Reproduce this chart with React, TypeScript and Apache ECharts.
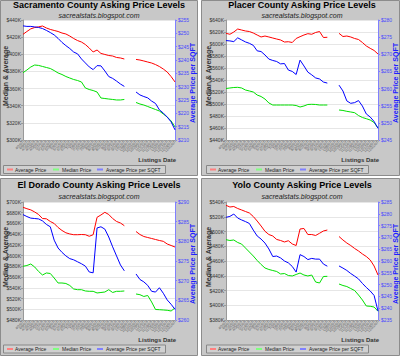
import React, { useEffect, useRef } from "react";
import * as echarts from "echarts";

const dates = [
  "4/2/07", "4/9/07", "4/16/07", "4/23/07", "4/30/07", "5/7/07", "5/14/07", "5/21/07",
  "5/28/07", "6/4/07", "6/11/07", "6/18/07", "6/25/07", "7/2/07", "7/9/07", "7/16/07",
  "7/23/07", "7/30/07", "8/6/07", "8/13/07", "8/20/07", "8/27/07", "9/3/07", "9/10/07",
  "9/17/07", "9/24/07", "10/1/07", "10/8/07", "10/15/07", "10/22/07", "10/29/07", "11/5/07",
  "11/12/07", "11/19/07", "11/26/07", "12/3/07", "12/10/07", "12/17/07", "12/24/07", "12/31/07",
];

const sacramentoAverage = [423.3, 426.6, 429.7, 431.2, 432, 433, 430.7, 429, 427.8, 426.6, 424.8, 423.7, 421.3, 418.4, 416, 414.3, 411.4, 407.3, 402.7, 405, 401, 399.8, 398.6, 398, 396.3, 395.7, 394.5, null, null, 394, 393.3, 392.2, 391, 389.8, 388, 385.7, 382.8, 379.3, 374, 367.7];
const sacramentoMedian = [378.5, 381.7, 385.2, 387.5, 387, 385.8, 384.6, 383.4, 381, 378.2, 376.4, 374.1, 372.3, 370.6, 369.4, 367.7, 360.7, 358.9, 357.7, 356, 349, 348.4, 347.8, 347.3, 346.7, 346.7, 347.3, null, null, 343.8, 342, 340.8, 339.1, 337.3, 335.6, 333.8, 330.3, 326.8, 322.2, 315.2];
const sacramentoSqft = [252.8, 252.6, 252.6, 252.4, 252.2, 251.8, 251.1, 250.3, 249.4, 248.1, 246.6, 245.4, 244.3, 243, 242.3, 240.4, 238.9, 237.4, 236.4, 237.9, 237.8, 235.9, 233.8, 233.1, 232.1, 231, 230.1, null, null, 228, 226.9, 226.3, 225.8, 224.6, 223.7, 221.3, 220.1, 218.6, 216.8, 213.8];

const placerAverage = [617.8, 616.2, 620, 625, 623.3, 621.7, 620.8, 618.3, 615, 611.7, 613.3, 611.7, 610, 608.3, 606.7, 603.3, 603.8, 602.5, 609.2, 612.2, 615, 617.2, 616.2, 619.2, 620.8, 610.8, 611.2, null, null, 617.8, 612.5, 613.3, 611.7, 609.2, 607.5, 602.5, 596.7, 592.8, 589.2, 583.3];
const placerMedian = [525.8, 526.7, 527.5, 527.8, 526.7, 523.3, 521.7, 520, 515, 512.5, 508.3, 501.7, 498.3, 498.3, 498.3, 498.3, 498.3, 498.3, 497.5, 495, 496.7, 499.2, 499.5, 499.2, 498.3, 498.3, 498.3, null, null, 490, 489.2, 487.8, 486.7, 485.5, 480.8, 477.5, 475.5, 473.3, 469.2, 460];
const placerSqft = [274, 273.9, 273.7, 274.8, 274.2, 273.6, 273.2, 272.6, 271, 270.8, 269.8, 268.6, 268.2, 267.9, 267.2, 267.3, 265.4, 265, 264.1, 268.3, 266.6, 264.8, 264, 263.1, 262.8, 261.9, 261.6, null, null, 261, 259.3, 256.4, 255.7, 255.9, 256.5, 254.9, 252.6, 251.7, 250.4, 248.4];

const elDoradoAverage = [690.1, 687.5, 685.3, 681.4, 676.7, 669.2, 668.7, 663.7, 659.9, 652.5, 646.9, 642.6, 640.4, 639, 639, 639.4, 639, 636.1, 639, 671.5, 675.8, 680.8, 676.7, 669.2, 663.7, 660.9, 655.8, null, null, 645, 639.4, 635.7, 633.8, 632, 630.1, 628.2, 626.7, 621.7, 618.9, 616.1];
const elDoradoMedian = [580.1, 581.6, 584.4, 578.8, 570.5, 563.9, 567.7, 566.7, 558.3, 549, 549, 548.1, 544.4, 537.8, 536.5, 536.5, 534.1, 533.5, 533.5, 530.4, 531.3, 532.2, 536.5, 531.3, 533.5, 533.5, 534.1, null, null, 528.5, 527.2, 523.9, 525.7, 513.6, 499.6, 499.2, 498.7, 498.1, 496.8, 502.4];
const elDoradoSqft = [286.8, 286.3, 285.9, 285.8, 285.7, 285.2, 284.3, 283.7, 280.3, 278.3, 277.2, 276.3, 275.6, 275.3, 274.8, 274.3, 273.7, 272.2, 272, 283.4, 283.7, 283.1, 281.1, 278.6, 276.3, 274, 272.5, null, null, 271.7, 270.3, 269.7, 268.8, 267.3, 267.1, 268.2, 266.8, 265.1, 264, 262.7];

const yoloAverage = [535.5, 533.2, 533.9, 531.2, 529.2, 527.1, 525.1, 520.3, 514.2, 507.5, 500.3, 495.9, 493.9, 489.2, 487.8, 485.8, 487.5, 483.1, 481, 503.4, 504.1, 495.9, 495.9, 494.6, 497.6, 500.7, 502, null, null, 493.2, 488.5, 484.4, 481, 477, 473.6, 469.5, 466.1, 461.4, 453.2, 441];
const yoloMedian = [488.9, 487.8, 488.5, 485.1, 483, 477.6, 472.2, 466.8, 460.7, 455.3, 450.5, 448.5, 447.1, 445.8, 442.4, 443, 440.3, 439.7, 441.7, 443.7, 441, 439.7, 441, 431.5, 430.2, 439, 439.2, null, null, 428.8, 426.8, 425.4, 422.7, 420, 413.9, 407.1, 399, 398.6, 397.6, 391.8];
const yoloSqft = [278.5, 278.9, 279.9, 278.2, 277.4, 276.7, 275.9, 273.1, 270.6, 269.3, 267.6, 265.1, 261.9, 262.1, 261.3, 260, 259.2, 257.7, 255.3, 262.7, 261.9, 260.6, 261.1, 260.8, 260.8, 258.7, 257.8, null, null, 257.9, 257, 256, 254.7, 253.6, 252.4, 250.5, 248.8, 247.3, 245.4, 238.8];

const countyNames = ["Sacramento", "Placer", "El Dorado", "Yolo"];
const averageSeries = [sacramentoAverage, placerAverage, elDoradoAverage, yoloAverage];
const medianSeries = [sacramentoMedian, placerMedian, elDoradoMedian, yoloMedian];
const sqftSeries = [sacramentoSqft, placerSqft, elDoradoSqft, yoloSqft];
const leftRanges = [[300, 440], [440, 640], [480, 700], [380, 540]];
const rightRanges = [[210, 255], [245, 280], [260, 290], [235, 285]];
const legendNames = ["Average Price", "Median Price", "Average Price per SQFT"];
const subtitle = "sacrealstats.blogspot.com";

const FONT = "Liberation Sans, Arial, sans-serif";
const RED = "#ff0000";
const GREEN = "#00e000";
const BLUE = "#0000ff";

export default function App() {
  const ref = useRef<HTMLDivElement>(null);
  useEffect(() => {
    if (!ref.current) return;
    const chart = echarts.init(ref.current, null, { renderer: "svg" });

    const layout = [
      { ox: 0, col: 0, row: 0 },
      { ox: 203, col: 1, row: 0 },
      { ox: 0, col: 0, row: 1 },
      { ox: 203, col: 1, row: 1 },
    ];
    const rows = [
      { top: 20, h: 120, titleY: 5, subY: 15.5, xNameY: 159.5, legY: 165, boxY: 0.5, boxH: 175 },
      { top: 202, h: 118, titleY: 185, subY: 196, xNameY: 339.5, legY: 344.5, boxY: 178.5, boxH: 177 },
    ];

    const grids: any[] = [];
    const xAxes: any[] = [];
    const yAxes: any[] = [];
    const series: any[] = [];
    const elements: any[] = [];

    layout.forEach((p, k) => {
      const r = rows[p.row];
      const gx = p.ox + 23;
      grids.push({
        left: gx, top: r.top, width: 152, height: r.h,
        show: true, backgroundColor: "#ffffff", borderWidth: 0,
      });
      xAxes.push({
        type: "category", gridIndex: k, data: dates, boundaryGap: false,
        axisLine: { lineStyle: { color: "#999" } },
        axisTick: { show: true, length: 2, interval: 0, lineStyle: { color: "#aaa" } },
        axisLabel: { interval: 0, rotate: 45, fontSize: 3.6, color: "#555", margin: 2, fontFamily: FONT, hideOverlap: false },
        splitLine: { show: false },
      });
      yAxes.push({
        type: "value", gridIndex: k, position: "left",
        min: leftRanges[k][0], max: leftRanges[k][1], interval: 20,
        axisLine: { show: true, lineStyle: { color: "#999" } },
        axisTick: { show: true, length: 2, lineStyle: { color: "#999" } },
        axisLabel: { fontSize: 5, color: "#333", margin: 2, fontFamily: FONT, formatter: (v: number) => "$" + v + "K" },
        splitLine: { show: true, lineStyle: { color: "#e6e6e6", width: 1 } },
      });
      yAxes.push({
        type: "value", gridIndex: k, position: "right",
        min: rightRanges[k][0], max: rightRanges[k][1], interval: 5,
        axisLine: { show: true, lineStyle: { color: "#8080ff" } },
        axisTick: { show: true, length: 2, lineStyle: { color: "#8080ff" } },
        axisLabel: { fontSize: 5, color: "#4848ff", margin: 3, fontFamily: FONT, formatter: (v: number) => "$" + v },
        splitLine: { show: false },
      });
      const base = { type: "line", xAxisIndex: k, showSymbol: false, symbol: "none", connectNulls: false, smooth: false };
      series.push({ ...base, name: legendNames[0], yAxisIndex: 2 * k, data: averageSeries[k], lineStyle: { color: RED, width: 1 }, itemStyle: { color: RED } });
      series.push({ ...base, name: legendNames[1], yAxisIndex: 2 * k, data: medianSeries[k], lineStyle: { color: GREEN, width: 1 }, itemStyle: { color: GREEN } });
      series.push({ ...base, name: legendNames[2], yAxisIndex: 2 * k + 1, data: sqftSeries[k], lineStyle: { color: BLUE, width: 1 }, itemStyle: { color: BLUE } });

      const px = p.col === 0 ? 0.5 : 201.5;
      const pw = p.col === 0 ? 197 : 198;
      elements.push({
        type: "rect", z: -10, silent: true,
        shape: { x: px, y: r.boxY, width: pw, height: r.boxH },
        style: { fill: "#c8c8c8", stroke: "#8c8c8c", lineWidth: 1 },
      });
      elements.push({
        type: "text", z: 10, x: p.ox + 99, y: r.titleY,
        style: { text: countyNames[k] + " County Asking Price Levels", font: "bold 9px " + FONT, fill: "#000", align: "center", verticalAlign: "middle" },
      });
      elements.push({
        type: "text", z: 10, x: p.ox + 99, y: r.subY,
        style: { text: subtitle, font: "italic 7px " + FONT, fill: "#222", align: "center", verticalAlign: "middle" },
      });
      elements.push({
        type: "text", z: 10, x: p.ox + 5, y: r.top + r.h / 2 - 4, rotation: Math.PI / 2,
        style: { text: "Median & Average", font: "bold 7px " + FONT, fill: "#333", align: "center", verticalAlign: "middle" },
      });
      elements.push({
        type: "text", z: 10, x: p.ox + 192, y: r.top + r.h / 2 + 3, rotation: Math.PI / 2,
        style: { text: "Average Price per SQFT", font: "bold 7px " + FONT, fill: "#2020ff", align: "center", verticalAlign: "middle" },
      });
      elements.push({
        type: "text", z: 10, x: p.ox + 176, y: r.xNameY,
        style: { text: "Listings Date", font: "bold 6px " + FONT, fill: "#333", align: "right", verticalAlign: "middle" },
      });
      const lx = p.ox + 3;
      elements.push({
        type: "rect", z: 5, silent: true,
        shape: { x: lx + 0.5, y: r.legY + 0.5, width: 162, height: 8 },
        style: { fill: "#d0d0d0", stroke: "#888", lineWidth: 1 },
      });
      const markerOffsets = [4, 50, 94];
      const textOffsets = [12, 59, 103];
      const markerColors = ["#ff8080", "#80ff80", "#8080ff"];
      legendNames.forEach((nm, j) => {
        elements.push({
          type: "rect", z: 10, silent: true,
          shape: { x: lx + markerOffsets[j], y: r.legY + 3.5, width: 6, height: 2 },
          style: { fill: markerColors[j] },
        });
        elements.push({
          type: "text", z: 10, x: lx + textOffsets[j], y: r.legY + 4.5,
          style: { text: nm, font: "5px " + FONT, fill: "#222", align: "left", verticalAlign: "middle" },
        });
      });
    });

    chart.setOption({
      animation: false,
      textStyle: { fontFamily: FONT },
      grid: grids,
      xAxis: xAxes,
      yAxis: yAxes,
      series,
      graphic: { elements },
    });
    return () => chart.dispose();
  }, []);
  return <div ref={ref} style={{ position: "absolute", left: 0, top: 0, width: 400, height: 356 }} />;
}
